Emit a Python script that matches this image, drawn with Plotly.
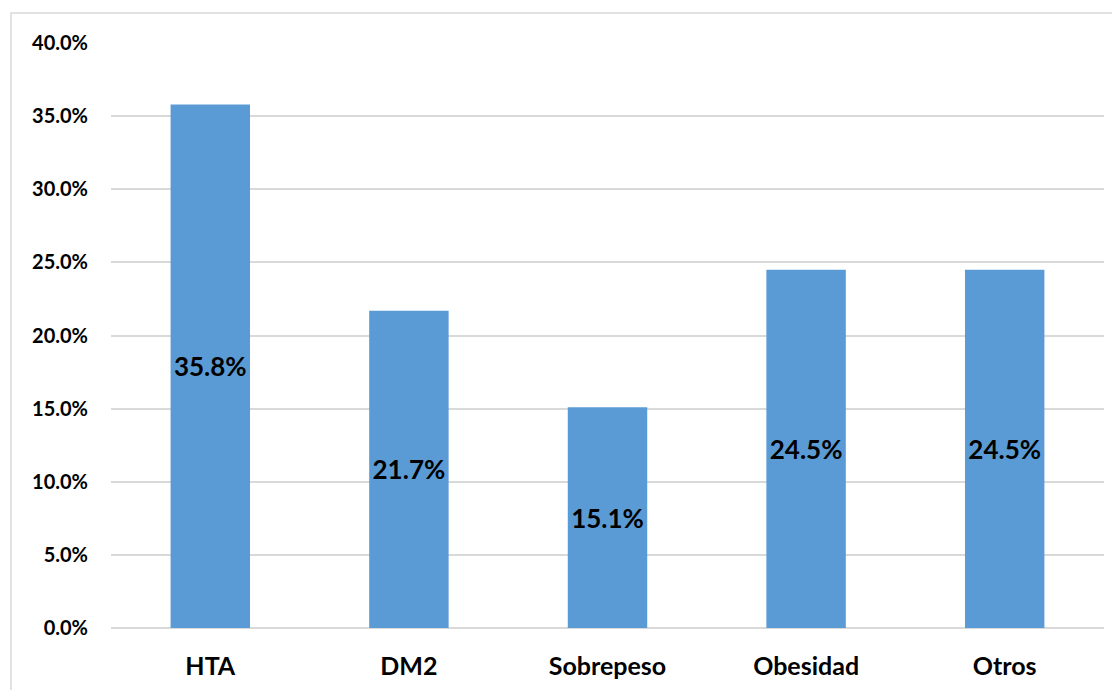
import plotly.graph_objects as go

categories = ["HTA", "DM2", "Sobrepeso", "Obesidad", "Otros"]
values = [35.8, 21.7, 15.1, 24.5, 24.5]
labels = ["35.8%", "21.7%", "15.1%", "24.5%", "24.5%"]
tick_vals = [0, 5, 10, 15, 20, 25, 30, 35, 40]
tick_text = ["0.0%", "5.0%", "10.0%", "15.0%", "20.0%", "25.0%", "30.0%", "35.0%", "40.0%"]

FONT = "Lato"

fig = go.Figure(go.Bar(
    x=categories, y=values, text=labels,
    marker=dict(color="#5B9BD5", line=dict(width=0)),
    textposition="inside", insidetextanchor="middle", constraintext="none",
    textfont=dict(family=FONT, size=26, color="black", weight="bold"),
    textangle=0,
))

fig.update_layout(
    width=1120, height=690,
    margin=dict(l=103, r=24, t=35, b=70),
    paper_bgcolor="white", plot_bgcolor="white",
    bargap=0.6, showlegend=False,
    font=dict(family=FONT, color="black"),
    xaxis=dict(showgrid=False, showline=False, ticks="", ticklabelstandoff=21,
               tickfont=dict(family=FONT, size=25, color="black", weight="bold")),
    yaxis=dict(range=[0, 40], tickvals=tick_vals, ticktext=tick_text,
               showgrid=True, gridcolor="#D9D9D9", gridwidth=1.5,
               zeroline=True, zerolinecolor="#D9D9D9", zerolinewidth=1.5,
               showline=False, ticks="", ticklabelstandoff=22,
               tickfont=dict(family=FONT, size=20, color="black", weight="bold")),
    shapes=[dict(type="rect", xref="paper", yref="paper",
                 x0=-0.1007, x1=1.03, y0=-0.13, y1=1.0513,
                 line=dict(color="#D9D9D9", width=1.5), fillcolor="rgba(0,0,0,0)",
                 layer="below")],
)

fig.write_html("out.html")
